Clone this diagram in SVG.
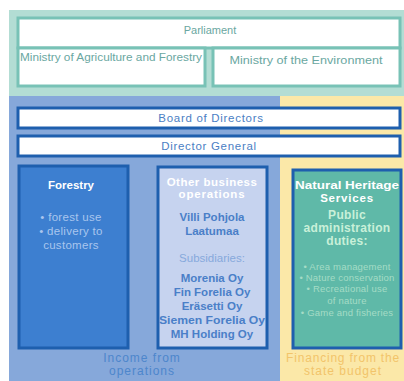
<svg xmlns="http://www.w3.org/2000/svg" width="404" height="381" viewBox="0 0 404 381">
<style>
text{font-family:"Liberation Sans",Arial,sans-serif;text-anchor:middle}
.tb{fill:#ffffff;stroke:#78c2b6;stroke-width:3}
.bb{fill:#ffffff;stroke:#1e5fae;stroke-width:3}
.tt{font-size:11px;fill:#6aa7a1}
.bt{font-size:11.5px;fill:#4b80c4;letter-spacing:0.7px}
.hw{font-size:11.5px;font-weight:bold;fill:#ffffff}
.lb{font-size:11.5px;fill:#a9c6ee;letter-spacing:0.3px}
.db{font-size:11.5px;font-weight:bold;fill:#4a7fc8}
.sb{font-size:11.5px;fill:#86a9dc}
.gb{font-size:12px;font-weight:bold;fill:#c9f0d9;letter-spacing:0.3px}
.gs{font-size:9.5px;fill:#a5dcc6;letter-spacing:0.2px}
</style>
<rect x="0" y="0" width="404" height="381" fill="#ffffff"/>
<g id="gov">
<rect x="9" y="10" width="395" height="86" fill="#b3ddd4"/>
</g>
<g id="parliament">
<rect class="tb" x="18" y="18" width="382" height="30"/>
<text class="tt" x="210" y="34">Parliament</text>
</g>
<g id="ministry-agri">
<rect class="tb" x="18" y="48" width="187" height="38"/>
<text class="tt" x="111" y="61" textLength="182" lengthAdjust="spacingAndGlyphs">Ministry of Agriculture and Forestry</text>
</g>
<g id="ministry-env">
<rect class="tb" x="213" y="48" width="187" height="38"/>
<text class="tt" x="306" y="64" textLength="153" lengthAdjust="spacingAndGlyphs">Ministry of the Environment</text>
</g>
<g id="regions">
<rect x="9" y="96" width="271" height="285" fill="#86a8da"/>
<rect x="280" y="96" width="124" height="285" fill="#fbe8a8"/>
<text x="142" y="362" font-size="12" fill="#4d86cc" letter-spacing="1">Income from</text>
<text x="142" y="375" font-size="12" fill="#4d86cc" letter-spacing="1">operations</text>
<text x="343" y="362" font-size="12" fill="#f2c46a" letter-spacing="0.8">Financing from the</text>
<text x="343" y="375" font-size="12" fill="#f2c46a" letter-spacing="1">state budget</text>
</g>
<g id="board">
<rect class="bb" x="18" y="108" width="382" height="20"/>
<text class="bt" x="211" y="122">Board of Directors</text>
</g>
<g id="director-general">
<rect class="bb" x="18" y="136" width="382" height="20"/>
<text class="bt" x="209" y="150">Director General</text>
</g>
<g id="forestry">
<rect x="19" y="166" width="109" height="182" fill="#3d7fd0" stroke="#1e5fae" stroke-width="3"/>
<text class="hw" x="71" y="189">Forestry</text>
<text class="lb" x="71" y="221">• forest use</text>
<text class="lb" x="71" y="235">• delivery to</text>
<text class="lb" x="71" y="249">customers</text>
</g>
<g id="other-business">
<rect x="158" y="167" width="109" height="181" fill="#c6d3ef" stroke="#1e5fae" stroke-width="3"/>
<text class="hw" x="212" y="186" letter-spacing="0.5">Other business</text>
<text class="hw" x="212" y="198" letter-spacing="0.8">operations</text>
<text class="db" x="212" y="221">Villi Pohjola</text>
<text class="db" x="212" y="235">Laatumaa</text>
<text class="sb" x="212" y="262">Subsidiaries:</text>
<text class="db" x="212" y="282">Morenia Oy</text>
<text class="db" x="212" y="296">Fin Forelia Oy</text>
<text class="db" x="212" y="310">Eräsetti Oy</text>
<text class="db" x="212" y="324" textLength="106" lengthAdjust="spacingAndGlyphs">Siemen Forelia Oy</text>
<text class="db" x="212" y="338">MH Holding Oy</text>
</g>
<g id="natural-heritage">
<rect x="293" y="170" width="108" height="178" fill="#5fb9a8" stroke="#1e5fae" stroke-width="3"/>
<text class="hw" x="347" y="189" font-size="12" textLength="104" lengthAdjust="spacingAndGlyphs">Natural Heritage</text>
<text class="hw" x="347" y="202" letter-spacing="0.8">Services</text>
<text class="gb" x="347" y="219">Public</text>
<text class="gb" x="347" y="232">administration</text>
<text class="gb" x="347" y="245">duties:</text>
<text class="gs" x="347" y="270">• Area management</text>
<text class="gs" x="347" y="281">• Nature conservation</text>
<text class="gs" x="347" y="292">• Recreational use</text>
<text class="gs" x="347" y="304">of nature</text>
<text class="gs" x="347" y="316">• Game and fisheries</text>
</g>
<g id="connectors"></g>
</svg>
